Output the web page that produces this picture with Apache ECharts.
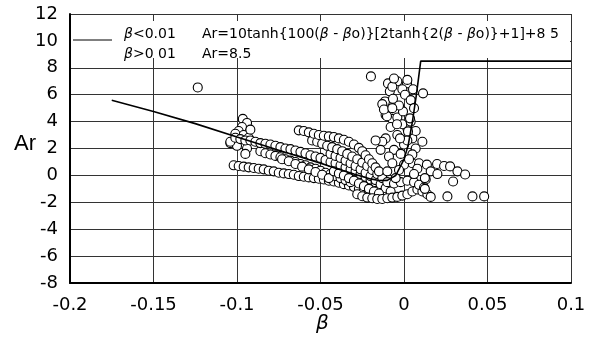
<!DOCTYPE html>
<html>
<head>
<meta charset="utf-8">
<script src="https://cdn.jsdelivr.net/npm/echarts@6/dist/echarts.min.js"></script>
<style>
  html, body { margin: 0; padding: 0; background: #fff; }
  #chart { width: 592px; height: 343px; }
</style>
</head>
<body>
<div id="chart"></div>
<script>
// Axis ranges and tick steps
const xTicks = { min: -0.2, max: 0.1, step: 0.05 };
const yTicks = { min: -8, max: 12, step: 2 };

// Fitted curve: Ar = 10tanh{100(b - bo)}[2tanh{2(b - bo)}+1] + 8.5 below 0.01, flat 8.5 above
const fitBeta = [-0.175, -0.15, -0.125, -0.1, -0.075, -0.05, -0.04, -0.03, -0.02, -0.015, -0.01, -0.005, 0, 0.0025, 0.005, 0.0075, 0.01, 0.1];
const fitAr   = [5.58, 4.75, 3.85, 2.85, 1.87, 0.9, 0.5, 0.1, -0.26, -0.38, -0.37, -0.01, 1.19, 2.24, 3.97, 6.06, 8.5, 8.5];

// Measured points, grouped by trace
const isolated = [[-0.1235, 6.54], [-0.0198, 7.36]];

const leftKnot = [[-0.0965, 4.2], [-0.094, 3.9], [-0.097, 3.6], [-0.099, 3.3], [-0.101, 3.1], [-0.096, 3.0],
  [-0.093, 2.8], [-0.104, 2.4], [-0.094, 2.0], [-0.095, 1.6], [-0.092, 3.4], [-0.1, 2.2]];

const traceA = [[-0.104, 2.5], [-0.101, 2.8], [-0.098, 2.7], [-0.095, 2.6], [-0.092, 2.6], [-0.089, 2.5],
  [-0.086, 2.4], [-0.083, 2.35], [-0.08, 2.3], [-0.077, 2.2], [-0.074, 2.1], [-0.071, 2.0], [-0.068, 1.95],
  [-0.065, 1.85], [-0.062, 1.75], [-0.059, 1.65], [-0.056, 1.5], [-0.053, 1.4], [-0.05, 1.3], [-0.047, 1.15],
  [-0.044, 1.0], [-0.041, 0.9], [-0.038, 0.75], [-0.035, 0.6], [-0.032, 0.45], [-0.029, 0.3], [-0.026, 0.1],
  [-0.023, -0.1], [-0.02, -0.3], [-0.017, -0.5]];

const traceB = [[-0.086, 1.8], [-0.083, 1.65], [-0.08, 1.55], [-0.077, 1.45], [-0.074, 1.35], [-0.071, 1.2],
  [-0.068, 1.1], [-0.065, 1.0], [-0.062, 0.85], [-0.059, 0.75], [-0.056, 0.6], [-0.053, 0.5], [-0.05, 0.35],
  [-0.047, 0.2], [-0.044, 0.1], [-0.041, -0.05], [-0.038, -0.2], [-0.035, -0.35], [-0.032, -0.5],
  [-0.073, 1.2], [-0.069, 1.05], [-0.065, 0.85], [-0.061, 0.65], [-0.057, 0.45], [-0.053, 0.25], [-0.049, 0.05],
  [-0.045, -0.2]];

const traceC = [[-0.102, 0.75], [-0.099, 0.7], [-0.096, 0.65], [-0.093, 0.6], [-0.09, 0.55], [-0.087, 0.5],
  [-0.084, 0.45], [-0.081, 0.35], [-0.078, 0.3], [-0.075, 0.2], [-0.072, 0.15], [-0.069, 0.1], [-0.066, 0.05],
  [-0.063, -0.05], [-0.06, -0.1], [-0.057, -0.15], [-0.054, -0.2], [-0.051, -0.25], [-0.048, -0.3],
  [-0.045, -0.4], [-0.042, -0.45], [-0.039, -0.55], [-0.036, -0.65], [-0.033, -0.75], [-0.03, -0.85],
  [-0.027, -1.0], [-0.024, -1.15], [-0.021, -1.3]];

const traceD = [[-0.063, 3.35], [-0.06, 3.3], [-0.057, 3.2], [-0.054, 3.1], [-0.051, 3.0], [-0.048, 2.95],
  [-0.045, 2.9], [-0.042, 2.85], [-0.039, 2.75], [-0.036, 2.65], [-0.033, 2.5], [-0.03, 2.3], [-0.027, 2.05],
  [-0.025, 1.8], [-0.023, 1.5], [-0.021, 1.2], [-0.019, 0.9], [-0.017, 0.6], [-0.015, 0.3]];

const traceE = [[-0.055, 2.6], [-0.052, 2.5], [-0.049, 2.35], [-0.046, 2.2], [-0.043, 2.1], [-0.04, 1.95],
  [-0.037, 1.8], [-0.034, 1.6], [-0.031, 1.4], [-0.028, 1.2], [-0.025, 0.95], [-0.022, 0.7], [-0.019, 0.4],
  [-0.016, 0.1], [-0.013, -0.2], [-0.01, -0.5]];

const traceF = [[-0.044, 1.6], [-0.041, 1.45], [-0.038, 1.3], [-0.035, 1.1], [-0.032, 0.9], [-0.029, 0.7],
  [-0.026, 0.45], [-0.023, 0.2], [-0.02, -0.05], [-0.017, -0.35], [-0.014, -0.65], [-0.011, -0.95],
  [-0.008, -1.2], [-0.042, 0.3], [-0.039, 0.15], [-0.036, 0.0], [-0.033, -0.2], [-0.03, -0.4],
  [-0.027, -0.6], [-0.024, -0.8], [-0.021, -1.0], [-0.018, -1.2], [-0.015, -1.35]];

const bottomRow = [[-0.028, -1.4], [-0.025, -1.55], [-0.022, -1.65], [-0.019, -1.7], [-0.016, -1.75],
  [-0.013, -1.75], [-0.01, -1.7], [-0.007, -1.65], [-0.004, -1.6], [-0.001, -1.5], [0.002, -1.4],
  [0.005, -1.2], [0.008, -1.05], [0.011, -1.2], [0.014, -1.4], [0.016, -1.6],
  [0.026, -1.56], [0.041, -1.56], [0.048, -1.56]];

const rightSpur = [[0.005, 0.9], [0.009, 0.9], [0.0137, 0.8], [0.0198, 0.85], [0.024, 0.7], [0.0276, 0.67],
  [0.032, 0.3], [0.0366, 0.07], [0.0294, -0.45], [-0.006, -0.6], [-0.002, -0.5], [0.002, -0.4],
  [0.006, -0.5], [0.009, -0.7], [0.012, -0.9], [0.016, 0.3], [0.02, 0.1], [0.013, -0.3]];

const stem = [[-0.011, 4.5], [-0.007, 4.2], [-0.004, 4.3], [0.002, 3.5], [0.005, 2.75], [0.007, 2.0],
  [-0.011, 2.75], [-0.013, 2.5], [0.011, 2.5], [0.005, 1.56], [0.0, 0.8], [0.008, 0.5], [0.0125, -0.2],
  [0.0125, -1.0], [-0.008, 3.6], [-0.004, 3.0], [0.0, 2.3], [-0.006, 1.9], [0.003, 1.2], [-0.003, 0.4],
  [-0.009, 1.4], [-0.014, 1.9], [-0.017, 2.6], [-0.001, 3.8], [0.004, 4.0], [0.007, 3.3],
  [-0.002, 1.6], [0.002, 2.6], [-0.007, 0.9], [-0.01, 0.3], [0.006, 0.1], [-0.005, -0.2]];

const upperKnot = [[-0.0096, 6.84], [-0.004, 7.0], [0.0018, 6.84], [-0.0085, 6.25], [-0.001, 6.4],
  [0.0054, 6.4], [0.0114, 6.1], [-0.0114, 5.5], [-0.0066, 5.7], [0.0006, 6.0], [-0.013, 5.3],
  [-0.0006, 4.76], [-0.0102, 4.4], [0.0036, 4.24], [-0.0042, 3.8], [0.0024, 3.27], [-0.0024, 2.75],
  [-0.007, 6.6], [0.004, 5.6], [-0.003, 5.2], [0.006, 5.0], [-0.012, 4.9], [-0.007, 5.0], [0.002, 7.1],
  [-0.006, 7.2]];

const points = [].concat(isolated, leftKnot, traceC, traceB, traceA, traceF, traceE, traceD,
  bottomRow, rightSpur, stem, upperKnot);

const chart = echarts.init(document.getElementById('chart'), null, { renderer: 'canvas' });

const tickFont = { fontFamily: 'DejaVu Sans', fontSize: 18, color: '#000' };
const legendFont = { fontFamily: 'DejaVu Sans', fontSize: 14, fill: '#000' };
const italicBeta = { fontFamily: 'DejaVu Sans', fontSize: 14, fontStyle: 'italic', fill: '#000' };

chart.setOption({
  animation: false,
  backgroundColor: '#fff',
  grid: { left: 70, right: 21, top: 14, bottom: 60, containLabel: false },
  xAxis: {
    type: 'value', min: xTicks.min, max: xTicks.max, interval: xTicks.step,
    axisLine: { show: true, onZero: false, lineStyle: { color: '#000', width: 2 } },
    axisTick: { show: false },
    axisLabel: Object.assign({ margin: 13 }, tickFont),
    splitLine: { show: true, lineStyle: { color: '#333', width: 1 } }
  },
  yAxis: {
    type: 'value', min: yTicks.min, max: yTicks.max, interval: yTicks.step,
    axisLine: { show: true, onZero: false, lineStyle: { color: '#000', width: 2 } },
    axisTick: { show: false },
    axisLabel: Object.assign({ margin: 12 }, tickFont),
    splitLine: { show: true, lineStyle: { color: '#333', width: 1 } }
  },
  series: [
    {
      type: 'scatter',
      data: points,
      symbol: 'circle',
      symbolSize: 9,
      itemStyle: { color: '#fff', borderColor: '#000', borderWidth: 1.1, opacity: 1 },
      z: 2
    },
    {
      type: 'line',
      data: fitBeta.map((b, i) => [b, fitAr[i]]),
      showSymbol: false,
      smooth: false,
      lineStyle: { color: '#000', width: 1.6 },
      z: 3
    }
  ],
  graphic: [
    // white key box over the grid
    { type: 'rect', z: 1, shape: { x: 71, y: 21, width: 499, height: 37 }, style: { fill: '#fff' } },
    { type: 'line', z: 4, shape: { x1: 73, y1: 40, x2: 112, y2: 40 }, style: { stroke: '#000', lineWidth: 1 } },
    {
      type: 'text', z: 4, left: 124, top: 27,
      style: { text: '{b|β}<0.01', rich: { b: italicBeta }, ...legendFont }
    },
    {
      type: 'text', z: 4, left: 124, top: 47,
      style: { text: '{b|β}>0 01', rich: { b: italicBeta }, ...legendFont }
    },
    {
      type: 'text', z: 4, left: 202, top: 27,
      style: {
        text: 'Ar=10tanh{100({b|β} - {b|β}o)}[2tanh{2({b|β} - {b|β}o)}+1]+8 5',
        rich: { b: italicBeta }, ...legendFont
      }
    },
    {
      type: 'text', z: 4, left: 202, top: 47,
      style: { text: 'Ar=8.5', ...legendFont }
    },
    {
      type: 'text', z: 4, left: 14, top: 133,
      style: { text: 'Ar', fontFamily: 'Liberation Sans', fontSize: 22, fill: '#000' }
    },
    {
      type: 'text', z: 4, left: 316, top: 314,
      style: { text: 'β', fontFamily: 'DejaVu Sans', fontSize: 20, fontStyle: 'italic', fill: '#000' }
    }
  ]
});
</script>
</body>
</html>
